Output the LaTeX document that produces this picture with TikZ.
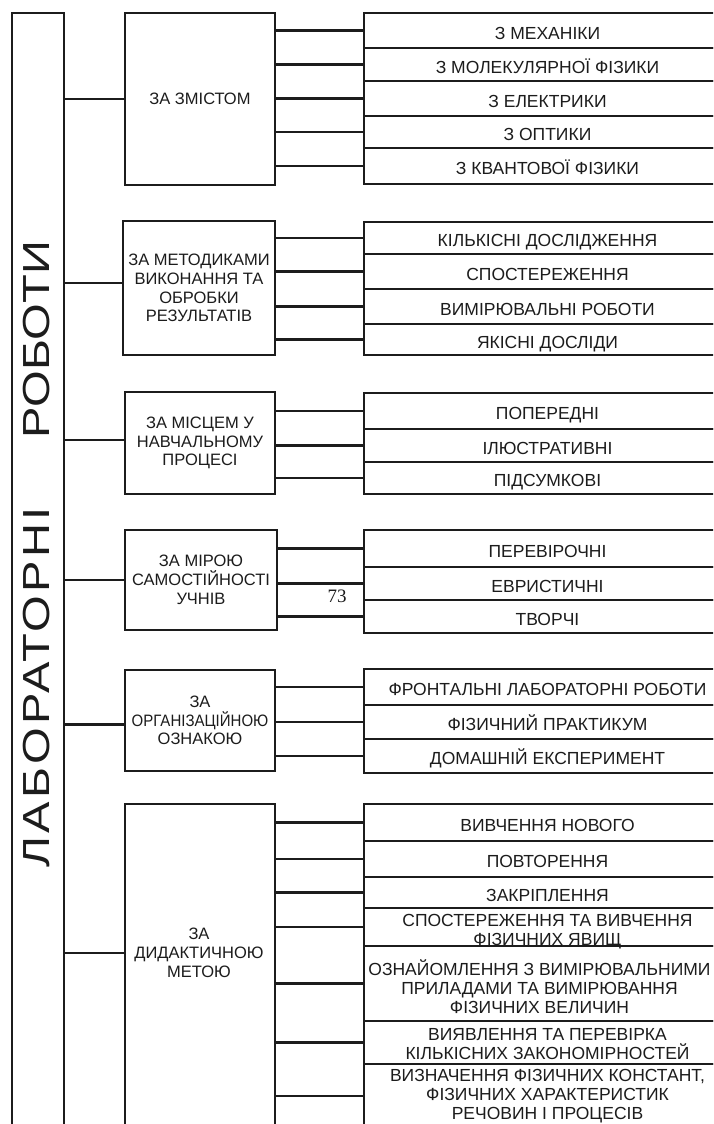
\documentclass[tikz,border=0pt]{standalone}
\usepackage{fontspec}
\usepackage{graphicx}
\setmainfont{Liberation Sans}
\newfontfamily\numfont{Liberation Serif}
\definecolor{ink}{HTML}{1C1C1C}
\tikzset{
  bx/.style={draw=ink, line width=2pt, inner sep=0pt, anchor=north west, align=center, text=ink},
  catbox/.style={bx, minimum width=150pt, font=\fontsize{16.5}{18.7}\selectfont},
  rowbox/.style={bx, minimum width=367pt, font=\fontsize{17.5}{19}\selectfont, text height=17.5pt, text depth=0pt},
  wire/.style={draw=ink, line width=2.3pt},
  lbl/.style={text=ink, align=center, inner sep=0pt, font=\fontsize{16.5}{18.7}\selectfont},
}
\begin{document}
\begin{tikzpicture}[x=1pt,y=-1pt]
\useasboundingbox (0,0) rectangle (713,1124);
\fill[white] (0,0) rectangle (713,1124);
\clip (0,0) rectangle (713,1124);

% title column
\node[bx, minimum width=52pt, minimum height=1200pt] (title) at (11,12) {};
\node[text=ink, rotate=90, inner sep=0pt, font=\fontsize{37.7}{40}\selectfont] (ttl) at (37,554)
  {\scalebox{1.25}[1]{\addfontfeature{LetterSpace=7}ЛАБОРАТОРНІ\hspace{55pt}\addfontfeature{LetterSpace=0.5}РОБОТИ}};

% category boxes
\node[catbox, minimum height=172pt] (c1) at (124,12) {ЗА ЗМІСТОМ};
\node[catbox, minimum width=152pt, minimum height=134pt] (c2) at (122,220) {ЗА МЕТОДИКАМИ\\ВИКОНАННЯ ТА\\ОБРОБКИ\\РЕЗУЛЬТАТІВ};
\node[catbox, minimum height=102pt] (c3) at (124,391) {ЗА МІСЦЕМ У\\НАВЧАЛЬНОМУ\\ПРОЦЕСІ};
\node[catbox, minimum width=152pt, minimum height=100pt] (c4) at (124,529) {ЗА МІРОЮ\\САМОСТІЙНОСТІ\\УЧНІВ};
\node[catbox, minimum height=101pt] (c5) at (124,669) {ЗА\\\scalebox{0.91}[1]{ОРГАНІЗАЦІЙНОЮ}\\ОЗНАКОЮ};
\node[catbox, minimum height=400pt] (c6) at (124,803) {};
\node[lbl] (c6t) at (199,953) {ЗА\\ДИДАКТИЧНОЮ\\МЕТОЮ};

% trunk connectors
\draw[wire] (c1.west) -- (c1.west -| title.east);
\draw[wire] ([yshift=5pt]c2.west) -- ([yshift=5pt]c2.west -| title.east);
\draw[wire] ([yshift=3pt]c3.west) -- ([yshift=3pt]c3.west -| title.east);
\draw[wire] (c4.west) -- (c4.west -| title.east);
\draw[wire] ([yshift=-4pt]c5.west) -- ([yshift=-4pt]c5.west -| title.east);
\draw[wire] (c6.west |- c6t) -- (title.east |- c6t);

% group 1
\node[rowbox, minimum height=35pt] (r11) at (363,12) {З МЕХАНІКИ};
\node[rowbox, minimum height=33pt] (r12) at (363,47) {З МОЛЕКУЛЯРНОЇ ФІЗИКИ};
\node[rowbox, minimum height=35pt] (r13) at (363,80) {З ЕЛЕКТРИКИ};
\node[rowbox, minimum height=32pt] (r14) at (363,115) {З ОПТИКИ};
\node[rowbox, minimum height=36pt] (r15) at (363,147) {З КВАНТОВОЇ ФІЗИКИ};
\foreach \r in {r11,r12,r13,r14,r15} \draw[wire] (\r.west) -- (\r.west -| c1.east);

% group 2
\node[rowbox, minimum height=32pt] (r21) at (363,221) {КІЛЬКІСНІ ДОСЛІДЖЕННЯ};
\node[rowbox, minimum height=35pt] (r22) at (363,253) {СПОСТЕРЕЖЕННЯ};
\node[rowbox, minimum height=35pt] (r23) at (363,288) {ВИМІРЮВАЛЬНІ РОБОТИ};
\node[rowbox, minimum height=31pt] (r24) at (363,323) {ЯКІСНІ ДОСЛІДИ};
\foreach \r in {r21,r22,r23,r24} \draw[wire] (\r.west) -- (\r.west -| c2.east);

% group 3
\node[rowbox, minimum height=36pt] (r31) at (363,392) {ПОПЕРЕДНІ};
\node[rowbox, minimum height=33pt] (r32) at (363,428) {ІЛЮСТРАТИВНІ};
\node[rowbox, minimum height=32pt] (r33) at (363,461) {ПІДСУМКОВІ};
\foreach \r in {r31,r32,r33} \draw[wire] (\r.west) -- (\r.west -| c3.east);

% group 4
\node[rowbox, minimum height=37pt] (r41) at (363,529) {ПЕРЕВІРОЧНІ};
\node[rowbox, minimum height=33pt] (r42) at (363,566) {ЕВРИСТИЧНІ};
\node[rowbox, minimum height=33pt] (r43) at (363,599) {ТВОРЧІ};
\foreach \r in {r41,r42,r43} \draw[wire] (\r.west) -- (\r.west -| c4.east);
\node[text=ink, inner sep=0pt, font=\numfont\fontsize{19}{19}\selectfont] (pg) at (337,596) {73};

% group 5
\node[rowbox, minimum height=36pt] (r51) at (363,668) {ФРОНТАЛЬНІ ЛАБОРАТОРНІ РОБОТИ};
\node[rowbox, minimum height=34pt] (r52) at (363,704) {ФІЗИЧНИЙ ПРАКТИКУМ};
\node[rowbox, minimum height=34pt] (r53) at (363,738) {ДОМАШНІЙ ЕКСПЕРИМЕНТ};
\foreach \r in {r51,r52,r53} \draw[wire] (\r.west) -- (\r.west -| c5.east);

% group 6
\node[rowbox, minimum height=37pt] (r61) at (363,803) {ВИВЧЕННЯ НОВОГО};
\node[rowbox, minimum height=36pt] (r62) at (363,840) {ПОВТОРЕННЯ};
\node[rowbox, minimum height=31pt] (r63) at (363,876) {ЗАКРІПЛЕННЯ};
\node[rowbox, minimum height=38pt, text height=37.5pt] (r64) at (363,907) {СПОСТЕРЕЖЕННЯ ТА ВИВЧЕННЯ\\ФІЗИЧНИХ ЯВИЩ};
\node[rowbox, minimum width=351pt, minimum height=75pt, text height=59.5pt] (r65) at (363,945) {ОЗНАЙОМЛЕННЯ З ВИМІРЮВАЛЬНИМИ\\ПРИЛАДАМИ ТА ВИМІРЮВАННЯ\\ФІЗИЧНИХ ВЕЛИЧИН};
\node[rowbox, minimum height=43pt, text height=33.5pt] (r66) at (363,1020) {ВИЯВЛЕННЯ ТА ПЕРЕВІРКА\\КІЛЬКІСНИХ ЗАКОНОМІРНОСТЕЙ};
\node[rowbox, minimum height=64pt, text height=47.5pt] (r67) at (363,1063) {ВИЗНАЧЕННЯ ФІЗИЧНИХ КОНСТАНТ,\\ФІЗИЧНИХ ХАРАКТЕРИСТИК\\РЕЧОВИН І ПРОЦЕСІВ};
\foreach \r in {r61,r62,r63,r64,r65,r66,r67} \draw[wire] (\r.west) -- (\r.west -| c6.east);
\end{tikzpicture}
\end{document}
